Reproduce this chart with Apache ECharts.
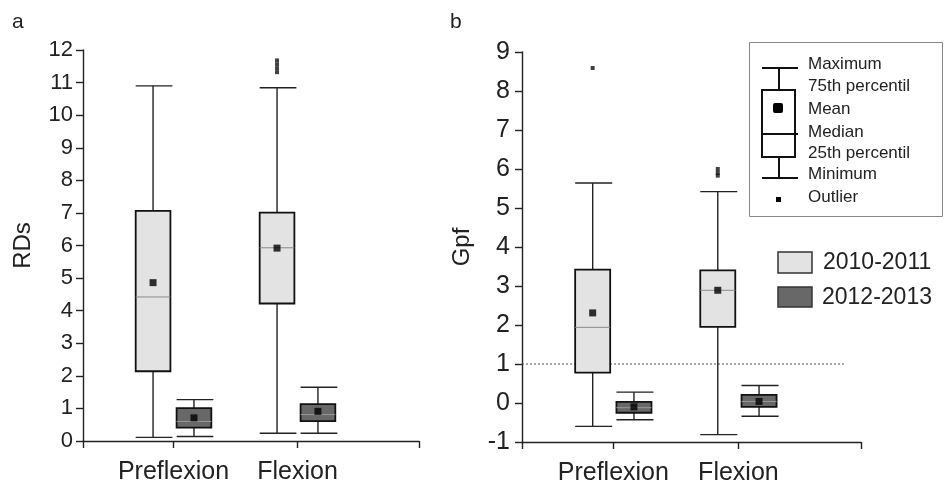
<!DOCTYPE html>
<html><head><meta charset="utf-8">
<script src="https://cdn.jsdelivr.net/npm/echarts@6/dist/echarts.min.js"></script>
<style>html,body{margin:0;padding:0;background:#fff}#c{width:944px;height:486px}</style>
</head><body><div id="c"></div>
<script>
const categories = ['Preflexion', 'Flexion'];
const years = ['2010-2011', '2012-2013'];
// [min, q1, median, q3, max]
const rdsBox2010 = [[0.11, 2.14, 4.42, 7.06, 10.9], [0.24, 4.22, 5.93, 7.01, 10.84]];
const rdsBox2012 = [[0.14, 0.41, 0.60, 1.01, 1.27], [0.24, 0.61, 0.81, 1.13, 1.65]];
const rdsMean2010 = [4.86, 5.92];
const rdsMean2012 = [0.71, 0.91];
const rdsOutliers2010 = [[], [11.68, 11.56, 11.44, 11.32]];
const gpfBox2010 = [[-0.6, 0.78, 1.94, 3.42, 5.64], [-0.81, 1.95, 2.89, 3.40, 5.42]];
const gpfBox2012 = [[-0.43, -0.25, -0.12, 0.03, 0.28], [-0.34, -0.10, 0.04, 0.21, 0.45]];
const gpfMean2010 = [2.31, 2.89];
const gpfMean2012 = [-0.10, 0.04];
const gpfOutliers2010 = [[8.59], [6.0, 5.9, 5.83]];
const gpfThreshold = 1;
const rdsTicks = [0, 12, 1];
const gpfTicks = [-1, 9, 1];
const legendLabels = ['Maximum', '75th percentil', 'Mean', 'Median', '25th percentil', 'Minimum', 'Outlier'];

const FONT = "Arial, 'Liberation Sans', sans-serif";
const OFF = 0.165, HALF = 0.14;
const XMIN = 0.27, XMAX = 2.98;
const LIGHT = '#e3e3e3', DARK = '#686868';

function boxRender(fill, medColor) {
  return function (params, api) {
    const x = api.value(0);
    const c = api.coord([x, api.value(1)]);
    const cx = c[0];
    const hw = api.size([HALF, 0])[0];
    const y = k => api.coord([x, api.value(k)])[1];
    const yMin = y(1), yQ1 = y(2), yMed = y(3), yQ3 = y(4), yMax = y(5);
    const ls = { stroke: '#222', lineWidth: 1.4 };
    return {
      type: 'group', children: [
        { type: 'line', shape: { x1: cx, y1: yMin, x2: cx, y2: yQ1 }, style: ls },
        { type: 'line', shape: { x1: cx, y1: yQ3, x2: cx, y2: yMax }, style: ls },
        { type: 'line', shape: { x1: cx - hw, y1: yMin, x2: cx + hw + 2, y2: yMin }, style: ls },
        { type: 'line', shape: { x1: cx - hw, y1: yMax, x2: cx + hw + 2, y2: yMax }, style: ls },
        { type: 'rect', shape: { x: cx - hw, y: yQ3, width: 2 * hw, height: yQ1 - yQ3 }, style: { fill: fill, stroke: '#111', lineWidth: 1.8 } },
        { type: 'line', shape: { x1: cx - hw, y1: yMed, x2: cx + hw, y2: yMed }, style: { stroke: medColor, lineWidth: 1 } }
      ]
    };
  };
}

function boxData(arr, off) { return arr.map((b, i) => [i + 1 + off].concat(b)); }
function meanData(arr, off) { return arr.map((m, i) => [i + 1 + off, m]); }
function outData(arr, off) {
  const out = [];
  arr.forEach((list, i) => list.forEach(v => out.push([i + 1 + off, v])));
  return out;
}

function xAxis(gridIndex) {
  return {
    type: 'value', gridIndex, min: XMIN, max: XMAX,
    splitLine: { show: false },
    axisLine: { show: true, onZero: false, lineStyle: { color: '#222', width: 1.4 } },
    axisTick: { show: true, length: 7, customValues: [XMIN, 1, 2, XMAX], lineStyle: { color: '#222', width: 1.4 } },
    axisLabel: { customValues: [1, 2], margin: 19, fontSize: 25, color: '#222', fontFamily: FONT,
      formatter: v => categories[Math.round(v) - 1] || '' }
  };
}
function yAxis(gridIndex, name, t, labelSize, labelMargin) {
  return {
    type: 'value', gridIndex, min: t[0], max: t[1], interval: t[2], name,
    nameLocation: 'middle', nameGap: 48, nameRotate: 90,
    nameTextStyle: { fontSize: 24, color: '#222', fontFamily: FONT },
    splitLine: { show: false },
    axisLine: { show: true, onZero: false, lineStyle: { color: '#222', width: 1.4 } },
    axisTick: { show: true, length: 7, lineStyle: { color: '#222', width: 1.4 } },
    axisLabel: { fontSize: labelSize, color: '#222', fontFamily: FONT, margin: labelMargin }
  };
}

const series = [];
function addPanel(idx, b10, b12, m10, m12, o10) {
  series.push({ type: 'custom', name: years[0], xAxisIndex: idx, yAxisIndex: idx, renderItem: boxRender(LIGHT, '#8a8a8a'), data: boxData(b10, -OFF), z: 2 });
  series.push({ type: 'custom', name: years[1], xAxisIndex: idx, yAxisIndex: idx, renderItem: boxRender(DARK, '#999'), data: boxData(b12, OFF), z: 2 });
  series.push({ type: 'scatter', xAxisIndex: idx, yAxisIndex: idx, symbol: 'rect', symbolSize: 7, itemStyle: { color: '#000' }, data: meanData(m10, -OFF).concat(meanData(m12, OFF)), z: 5 });
  series.push({ type: 'scatter', xAxisIndex: idx, yAxisIndex: idx, symbol: 'rect', symbolSize: 4, itemStyle: { color: '#111' }, data: outData(o10, -OFF), z: 5 });
}
addPanel(0, rdsBox2010, rdsBox2012, rdsMean2010, rdsMean2012, rdsOutliers2010);
addPanel(1, gpfBox2010, gpfBox2012, gpfMean2010, gpfMean2012, gpfOutliers2010);
series.push({ type: 'line', xAxisIndex: 1, yAxisIndex: 1, symbol: 'none', silent: true,
  lineStyle: { color: '#555', width: 1, type: [2, 2] }, data: [[XMIN, gpfThreshold], [2.86, gpfThreshold]], z: 1 });

// legend graphics
const gtext = (x, y, text, size) => ({ type: 'text', x, y, style: { text, fontSize: size, fontFamily: FONT, fill: '#222', textVerticalAlign: 'middle', verticalAlign: 'middle' } });
const gline = (x1, y1, x2, y2) => ({ type: 'line', shape: { x1, y1, x2, y2 }, style: { stroke: '#111', lineWidth: 2 } });
const labelYs = [64, 86, 109, 132, 153, 174, 197];
const graphic = [
  gtext(12, 22, 'a', 21), gtext(450, 22, 'b', 21),
  { type: 'rect', shape: { x: 749.5, y: 42.5, width: 193, height: 174 }, style: { fill: '#fff', stroke: '#888', lineWidth: 1 } },
  gline(762, 68, 798, 68), gline(779, 68, 779, 90),
  { type: 'rect', shape: { x: 762, y: 90, width: 33, height: 67 }, style: { fill: '#fff', stroke: '#111', lineWidth: 2 } },
  gline(762, 134, 798, 134), gline(779, 157, 779, 178), gline(762, 178, 798, 178),
  { type: 'rect', shape: { x: 773, y: 103, width: 10, height: 10, r: 2 }, style: { fill: '#000' } },
  { type: 'rect', shape: { x: 776, y: 197, width: 5, height: 5 }, style: { fill: '#000' } },
  { type: 'rect', shape: { x: 778, y: 252, width: 34, height: 21 }, style: { fill: LIGHT, stroke: '#333', lineWidth: 1.5 } },
  { type: 'rect', shape: { x: 778, y: 287, width: 34, height: 20 }, style: { fill: DARK, stroke: '#333', lineWidth: 1.5 } },
  gtext(823, 263, years[0], 23), gtext(822, 298, years[1], 23)
].concat(legendLabels.map((t, i) => gtext(808, labelYs[i], t, 17)));

const chart = echarts.init(document.getElementById('c'), null, { renderer: 'canvas' });
chart.setOption({
  animation: false,
  backgroundColor: '#fff',
  grid: [
    { left: 83, top: 50, width: 336, height: 391 },
    { left: 522, top: 52, width: 339, height: 390 }
  ],
  xAxis: [xAxis(0), xAxis(1)],
  yAxis: [yAxis(0, 'RDs', rdsTicks, 22, 10), yAxis(1, 'Gpf', gpfTicks, 25, 12)],
  series,
  graphic
});
</script></body></html>
